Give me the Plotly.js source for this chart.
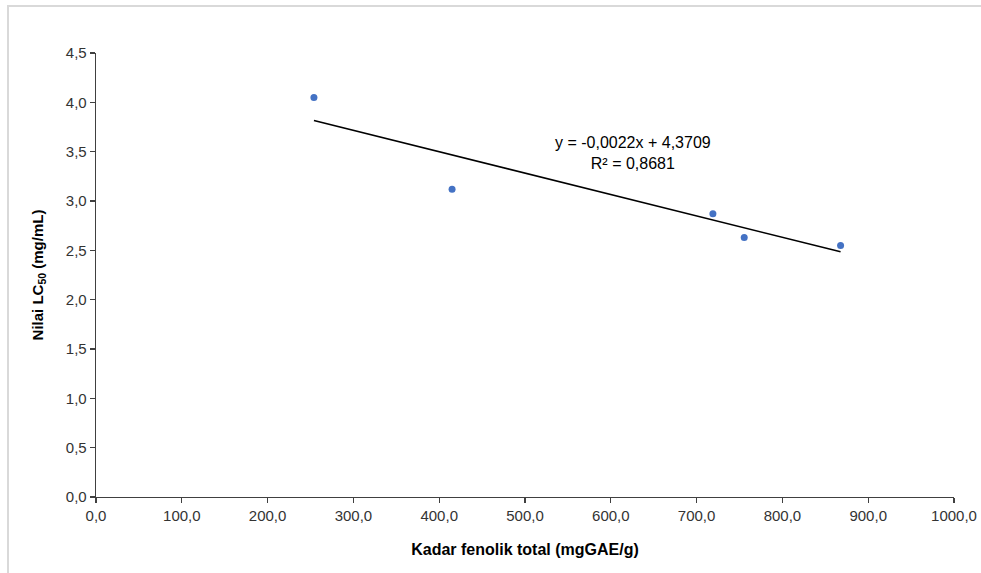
<!DOCTYPE html>
<html>
<head>
<meta charset="utf-8">
<script src="https://cdn.plot.ly/plotly-3.0.1.min.js"></script>
<style>
  html, body { margin: 0; padding: 0; background: #fff; }
  #wrap { position: relative; width: 981px; height: 573px; }
  #chart { width: 981px; height: 573px; }
  #frame { position: absolute; left: 7px; top: 5px; right: -10px; bottom: -10px;
           border-left: 2px solid #d9d9d9; border-top: 2px solid #d9d9d9; pointer-events: none; }
</style>
</head>
<body>
<div id="wrap">
  <div id="chart"></div>
  <div id="frame"></div>
</div>
<script>
// Data
const phenolic = [254, 415, 719, 755.5, 867.8];
const lc50 = [4.05, 3.12, 2.87, 2.63, 2.55];
const trendX = [254, 867.8];
const trendY = [3.815, 2.485];
const xTicks = [0, 100, 200, 300, 400, 500, 600, 700, 800, 900, 1000];
const xTickLabels = ["0,0", "100,0", "200,0", "300,0", "400,0", "500,0", "600,0", "700,0", "800,0", "900,0", "1000,0"];
const yTicks = [0, 0.5, 1, 1.5, 2, 2.5, 3, 3.5, 4, 4.5];
const yTickLabels = ["0,0", "0,5", "1,0", "1,5", "2,0", "2,5", "3,0", "3,5", "4,0", "4,5"];
const equationText = "y = -0,0022x + 4,3709<br>R² = 0,8681";

const font = "Liberation Sans, Arial, sans-serif";

const traces = [
  {
    x: trendX, y: trendY, type: "scatter", mode: "lines",
    line: { color: "#000000", width: 1.6 }, hoverinfo: "skip", showlegend: false
  },
  {
    x: phenolic, y: lc50, type: "scatter", mode: "markers",
    marker: { color: "#4472C4", size: 7 }, showlegend: false
  }
];

const layout = {
  width: 981, height: 573,
  margin: { l: 96, r: 27, t: 53, b: 76 },
  paper_bgcolor: "#ffffff", plot_bgcolor: "#ffffff",
  font: { family: font, size: 15, color: "#404040" },
  showlegend: false,
  xaxis: {
    range: [0, 1000], tickvals: xTicks, ticktext: xTickLabels,
    showgrid: false, zeroline: false, showline: true, linecolor: "#404040", linewidth: 1.3,
    ticks: "outside", ticklen: 5, tickcolor: "#404040", tickwidth: 1.3,
    tickfont: { family: font, size: 15, color: "#333333" },
    title: { text: "<b>Kadar fenolik total (mgGAE/g)</b>", font: { family: font, size: 16, color: "#000000" }, standoff: 20 }
  },
  yaxis: {
    range: [0, 4.5], tickvals: yTicks, ticktext: yTickLabels,
    showgrid: false, zeroline: false, showline: true, linecolor: "#404040", linewidth: 1.3,
    ticks: "outside", ticklen: 5, tickcolor: "#404040", tickwidth: 1.3,
    tickfont: { family: font, size: 15, color: "#333333" },
    title: { text: "<b>Nilai LC<sub>50</sub> (mg/mL)</b>", font: { family: font, size: 15, color: "#000000" }, standoff: 18 }
  },
  annotations: [
    {
      x: 626, y: 3.484, xref: "x", yref: "y", text: equationText, showarrow: false,
      align: "center", xanchor: "center", yanchor: "middle",
      font: { family: font, size: 16, color: "#000000" }
    }
  ]
};

Plotly.newPlot("chart", traces, layout, { displayModeBar: false, staticPlot: true });
</script>
</body>
</html>
